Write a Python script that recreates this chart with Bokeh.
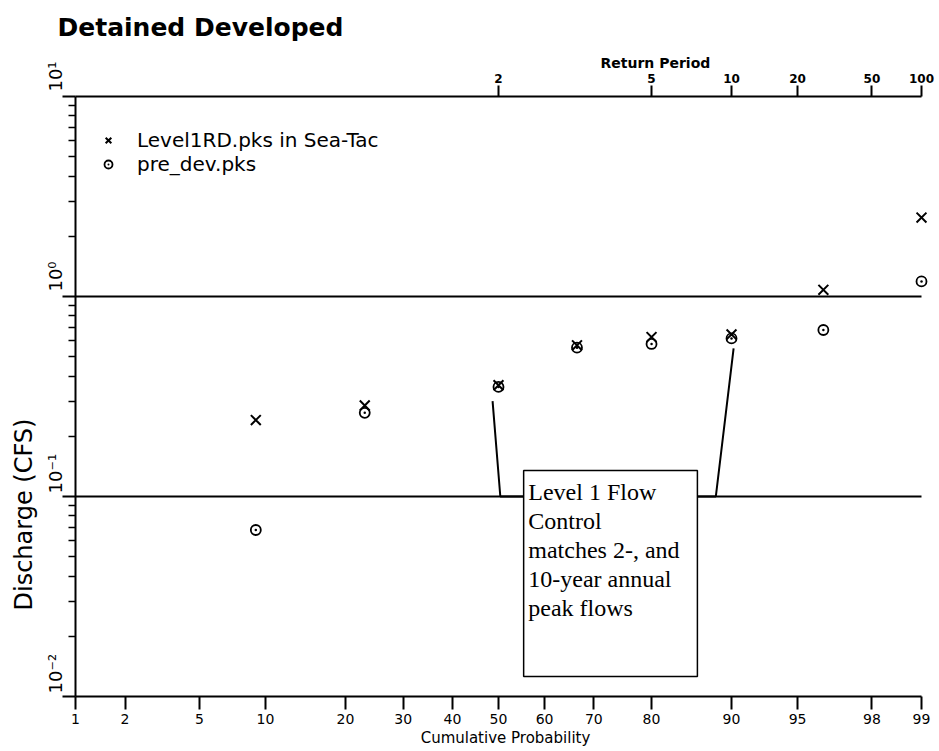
from statistics import NormalDist

from bokeh.embed import file_html
from bokeh.models import (BoxAnnotation, FixedTicker, Label, Legend, LegendItem,
                          LinearAxis, Range1d, Title)
from bokeh.plotting import figure
from bokeh.resources import INLINE

# ---- data -------------------------------------------------------------
title_text = "Detained Developed"
series_names = ["Level1RD.pks in Sea-Tac", "pre_dev.pks"]

# cumulative probability (%) of each plotted annual peak
cum_prob_pct = [9.1, 23.1, 50.0, 66.7, 80.0, 90.0, 96.3, 99.0]
# annual peak discharge (cfs)
level1_q = [0.241, 0.285, 0.360, 0.570, 0.627, 0.646, 1.08, 2.48]
predev_q = [0.068, 0.262, 0.353, 0.555, 0.579, 0.617, 0.680, 1.19]

prob_ticks = [1, 2, 5, 10, 20, 30, 40, 50, 60, 70, 80, 90, 95, 98, 99]
return_periods = [2, 5, 10, 20, 50, 100]
q_decades = [0.01, 0.1, 1, 10]
q_decade_labels = ["10\u207b\u00b2", "10\u207b\u00b9", "10\u2070", "10\u00b9"]

note_lines = ["Level 1 Flow", "Control", "matches 2-, and",
              "10-year annual", "peak flows"]

# ---- normal-probability x scale --------------------------------------
nd = NormalDist()


def probit(pct):
    return nd.inv_cdf(pct / 100.0)


W, H = 939, 751
FL, FR, FT, FB = 75, 935, 96, 696     # frame edges (px)
AX_RIGHT = 921                         # px where the 99 % tick sits

Z_LO, Z_99 = probit(1), probit(99)
PX_PER_Z = (AX_RIGHT - FL) / (Z_99 - Z_LO)
Z_HI = Z_99 + (FR - AX_RIGHT) / PX_PER_Z
DEC_PX = (FB - FT) / 3.0               # pixels per decade on the log y axis
INK = "black"

p = figure(width=W, height=H,
           x_range=Range1d(Z_LO, Z_HI), y_range=Range1d(0.01, 10),
           y_axis_type="log", output_backend="svg", toolbar_location=None,
           min_border_left=FL, min_border_right=W - FR,
           min_border_top=FT, min_border_bottom=H - FB,
           outline_line_color=None, background_fill_color="white",
           border_fill_color="white")

# title
p.title.text = title_text
p.title.text_font = "DejaVu Sans"
p.title.text_font_size = "25px"
p.title.text_font_style = "bold"
p.title.text_color = INK
p.title.align = "left"
p.title.offset = -18
p.title.standoff = 21

# horizontal decade lines
p.xgrid.visible = False
p.ygrid.ticker = FixedTicker(ticks=q_decades)
p.ygrid.grid_line_color = INK
p.ygrid.grid_line_width = 2
p.ygrid.cross_bounds = (Z_LO, Z_99)

# left (discharge) axis; decade labels read upward from just above each line
NBSP = "\u00a0"
pad = {0.01: 8, 0.1: 8, 1: 7, 10: 7}
ya = p.yaxis[0]
ya.ticker = FixedTicker(
    ticks=q_decades,
    minor_ticks=[m * 10.0 ** k for k in (-2, -1, 0) for m in range(2, 10)])
ya.major_label_overrides = {t: NBSP * pad[t] + lab
                            for t, lab in zip(q_decades, q_decade_labels)}
ya.major_label_orientation = "vertical"
ya.major_label_standoff = -3
ya.major_label_text_font = "DejaVu Sans"
ya.major_label_text_font_size = "18px"
ya.major_label_text_color = INK
ya.axis_line_width = 2
ya.axis_line_color = INK
ya.major_tick_out = 13
ya.major_tick_in = 0
ya.major_tick_line_width = 2
ya.major_tick_line_color = INK
ya.minor_tick_out = 7
ya.minor_tick_in = 0
ya.minor_tick_line_width = 1.5
ya.minor_tick_line_color = INK

p.add_layout(Title(text="Discharge (CFS)", align="left", offset=86,
                   standoff=8, text_font="DejaVu Sans", text_font_size="24px",
                   text_font_style="normal", text_color=INK), "left")

# bottom (cumulative probability) axis
xt = [probit(v) for v in prob_ticks]
xa = p.xaxis[0]
xa.ticker = FixedTicker(ticks=xt, minor_ticks=[])
xa.major_label_overrides = {z: str(v) for z, v in zip(xt, prob_ticks)}
xa.bounds = (Z_LO, Z_99)
xa.axis_label = "Cumulative Probability"
xa.axis_label_text_font = "DejaVu Sans"
xa.axis_label_text_font_size = "15px"
xa.axis_label_text_font_style = "normal"
xa.axis_label_text_color = INK
xa.axis_label_standoff = 2
xa.major_label_text_font = "DejaVu Sans"
xa.major_label_text_font_size = "14px"
xa.major_label_text_color = INK
xa.major_label_standoff = 4
xa.axis_line_width = 2
xa.axis_line_color = INK
xa.major_tick_out = 13
xa.major_tick_in = 0
xa.major_tick_line_width = 2
xa.major_tick_line_color = INK

# top (return period) axis
tt = [probit(100.0 * (1 - 1.0 / t)) for t in return_periods]
ta = LinearAxis(ticker=FixedTicker(ticks=tt, minor_ticks=[]),
                major_label_overrides={z: str(t) for z, t in zip(tt, return_periods)},
                bounds=(Z_LO, Z_99),
                major_label_text_font="DejaVu Sans",
                major_label_text_font_size="12px",
                major_label_text_font_style="bold",
                major_label_text_color=INK,
                major_label_standoff=3,
                axis_line_width=2, axis_line_color=INK,
                major_tick_out=11, major_tick_in=0,
                major_tick_line_width=2, major_tick_line_color=INK)
p.add_layout(ta, "above")
p.add_layout(Title(text="Return Period", align="left", offset=525, standoff=0,
                   text_font="DejaVu Sans", text_font_size="14px",
                   text_font_style="bold", text_color=INK), "above")

# ---- peak-flow points -------------------------------------------------
xs = [probit(v) for v in cum_prob_pct]
r_dev = p.scatter(xs, level1_q, marker="x", size=14, line_color=INK,
                  line_width=2)
r_pre = p.scatter(xs, predev_q, marker="circle_dot", size=10,
                  line_color=INK, line_width=1.8, fill_color=None)

# one legend entry per row so the rows can sit close together
legend_rows = [(series_names[0], r_dev, 544), (series_names[1], r_pre, 520)]
for name, rend, vy in legend_rows:
    p.add_layout(Legend(items=[LegendItem(label=name, renderers=[rend])],
                        location=(23, vy), padding=0, margin=0, spacing=0,
                        glyph_width=20, glyph_height=20, label_standoff=19,
                        label_height=20, label_text_font="DejaVu Sans",
                        label_text_font_size="20px", label_text_color=INK,
                        border_line_color=None, background_fill_alpha=0))

# ---- call-out: leaders from the 2- and 10-year points to the note -----
box_p = (55.5, 86.3)
box_q = (0.0126, 0.135)
p.line([probit(48.7), probit(50.4), probit(box_p[0])], [0.30, 0.1, 0.1],
       line_color=INK, line_width=2)
p.line([probit(90.2), probit(88.4), probit(box_p[1])], [0.55, 0.1, 0.1],
       line_color=INK, line_width=2)

p.add_layout(BoxAnnotation(left=probit(box_p[0]), right=probit(box_p[1]),
                           bottom=box_q[0], top=box_q[1],
                           fill_color="white", fill_alpha=1.0,
                           line_color=INK, line_width=1.5,
                           line_alpha=1.0))

note_x = probit(56.5)
note_top = -0.975      # log10 discharge of the first text row
note_step = 29 / DEC_PX
for i, line in enumerate(note_lines):
    p.add_layout(Label(x=note_x, y=10 ** (note_top - i * note_step), text=line,
                       text_align="left", text_baseline="middle",
                       text_font="Liberation Serif", text_font_size="24px",
                       text_color=INK))

open("out.html", "w").write(file_html(p, INLINE))
